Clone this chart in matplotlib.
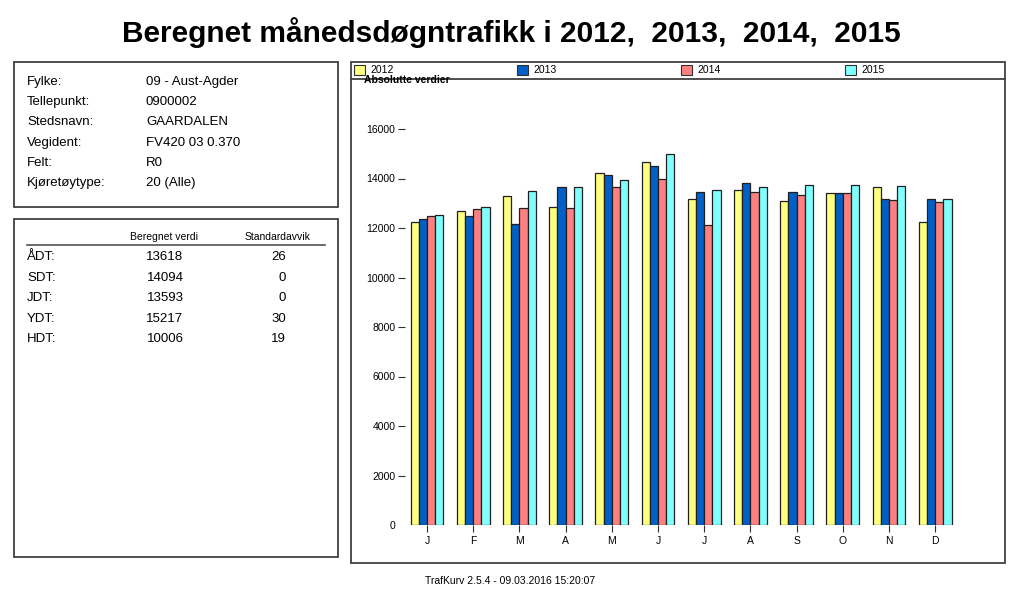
import matplotlib
matplotlib.use("Agg")
import matplotlib.pyplot as plt
from matplotlib.patches import Rectangle
import numpy as np

plt.rcParams['font.family'] = ['Liberation Sans', 'DejaVu Sans']

months = ["J", "F", "M", "A", "M", "J", "J", "A", "S", "O", "N", "D"]
years = ["2012", "2013", "2014", "2015"]
v2012 = [12230, 12670, 13280, 12850, 14220, 14680, 13180, 13530, 13080, 13410, 13640, 12240]
v2013 = [12360, 12470, 12170, 13670, 14150, 14520, 13440, 13830, 13470, 13410, 13180, 13180]
v2014 = [12470, 12750, 12820, 12790, 13640, 13990, 12130, 13440, 13320, 13410, 13120, 13050]
v2015 = [12520, 12850, 13480, 13670, 13930, 15000, 13530, 13640, 13740, 13740, 13710, 13160]
series = [v2012, v2013, v2014, v2015]
colors = ["#FFFF80", "#0060C8", "#FF8080", "#80FFFF"]
yticks = [0, 2000, 4000, 6000, 8000, 10000, 12000, 14000, 16000]

info_labels = ["Fylke:", "Tellepunkt:", "Stedsnavn:", "Vegident:", "Felt:", "Kjøretøytype:"]
info_values = ["09 - Aust-Agder", "0900002", "GAARDALEN", "FV420 03 0.370", "R0", "20 (Alle)"]
stat_labels = ["ÅDT:", "SDT:", "JDT:", "YDT:", "HDT:"]
stat_values = ["13618", "14094", "13593", "15217", "10006"]
stat_std = ["26", "0", "0", "30", "19"]

W, H = 1023, 609
fig = plt.figure(figsize=(W / 100, H / 100), dpi=100)

# overlay axes in pixel coordinates
bg = fig.add_axes([0, 0, 1, 1], zorder=0)
bg.set_xlim(0, W)
bg.set_ylim(H, 0)
bg.axis("off")

frame_col = "#404040"
for (x0, y0, x1, y1) in [(14, 62, 338, 207), (14, 219, 338, 557), (351, 62, 1005, 563)]:
    bg.add_patch(Rectangle((x0, y0), x1 - x0, y1 - y0, fill=False, edgecolor=frame_col, lw=1.3))
bg.plot([351, 1005], [79, 79], color=frame_col, lw=1.3)

bg.text(511, 33, "Beregnet månedsdøgntrafikk i 2012,  2013,  2014,  2015",
        ha="center", va="center", fontsize=21.5, fontweight="bold")

for i, (lab, val) in enumerate(zip(info_labels, info_values)):
    y = 82 + i * 20.2
    bg.text(27, y, lab, ha="left", va="center", fontsize=9.5)
    bg.text(146, y, val, ha="left", va="center", fontsize=9.5)

bg.text(164, 237, "Beregnet verdi", ha="center", va="center", fontsize=7.5)
bg.text(278, 237, "Standardavvik", ha="center", va="center", fontsize=7.5)
bg.plot([27, 325], [244.5, 244.5], color="#606060", lw=1.3)
for i, (lab, val, sd) in enumerate(zip(stat_labels, stat_values, stat_std)):
    y = 257 + i * 20.6
    bg.text(27, y, lab, ha="left", va="center", fontsize=9.5)
    bg.text(165, y, val, ha="center", va="center", fontsize=9.5)
    bg.text(286, y, sd, ha="right", va="center", fontsize=9.5)

# legend
leg_x = [354, 517, 681, 845]
for x, c, yr in zip(leg_x, colors, years):
    bg.add_patch(Rectangle((x, 65), 11, 10, facecolor=c, edgecolor="#303030", lw=0.8))
    bg.text(x + 16, 70, yr, ha="left", va="center", fontsize=7.5)

bg.text(364, 80, "Absolutte verdier", ha="left", va="center", fontsize=7.5, fontweight="bold")
bg.text(510, 581, "TrafKurv 2.5.4 - 09.03.2016 15:20:07", ha="center", va="center", fontsize=7.5)

# chart axes
ax_left, ax_right, ax_top, ax_bottom = 405, 960, 85, 525
ax = fig.add_axes([ax_left / W, 1 - ax_bottom / H, (ax_right - ax_left) / W, (ax_bottom - ax_top) / H], zorder=1)
ax.patch.set_alpha(0)
spacing = 46.2
center0 = 427
x = np.arange(len(months))
bw = 8.2 / spacing
for k, (vals, c) in enumerate(zip(series, colors)):
    ax.bar(x + (k - 1.5) * bw, vals, width=bw, color=c, edgecolor="#202020", lw=0.9)
ax.set_xlim((ax_left - center0) / spacing, (ax_right - center0) / spacing)
px_per_unit = (525 - 129) / 16000
ax.set_ylim(0, (ax_bottom - ax_top) / px_per_unit)
for s in ax.spines.values():
    s.set_visible(False)
ax.set_xticks(x)
ax.set_xticklabels(months, fontsize=7.5)
ax.set_yticks(yticks)
ax.set_yticklabels([str(t) for t in yticks], fontsize=7.5)
ax.tick_params(axis="y", direction="out", length=5, width=0.8, pad=2, color="#303030")
ax.tick_params(axis="x", direction="out", length=5, width=0.8, pad=3, color="#303030")
ax.yaxis.get_major_ticks()[0].tick1line.set_visible(False)

fig.savefig("out.png", dpi=100)
